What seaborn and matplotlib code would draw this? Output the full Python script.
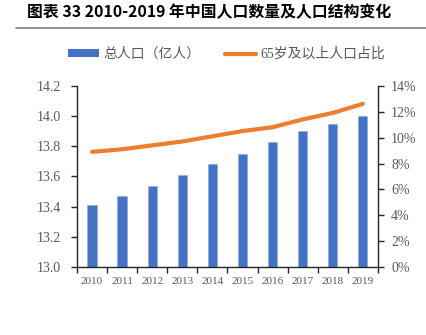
import numpy as np
import pandas as pd
import matplotlib
matplotlib.use("Agg")
import matplotlib.pyplot as plt
from matplotlib.patches import Patch
from matplotlib.lines import Line2D
from matplotlib.ticker import FuncFormatter, FixedLocator
import seaborn as sns

years = ["2010", "2011", "2012", "2013", "2014", "2015", "2016", "2017", "2018", "2019"]
population = [13.41, 13.47, 13.54, 13.61, 13.68, 13.75, 13.83, 13.90, 13.95, 14.00]
aged_share = [8.9, 9.1, 9.4, 9.7, 10.1, 10.5, 10.8, 11.4, 11.9, 12.6]
left_ticks = [13.0, 13.2, 13.4, 13.6, 13.8, 14.0, 14.2]
right_ticks = [0, 2, 4, 6, 8, 10, 12, 14]
title = "图表 33 2010-2019 年中国人口数量及人口结构变化"
bar_label = "总人口（亿人）"
line_label = "65岁及以上人口占比"

sns.set_style("white")
plt.rcParams["font.family"] = ["Liberation Serif", "Noto Sans CJK SC", "DejaVu Sans"]

BLUE = "#4472C4"
ORANGE = "#ED7D31"
GRAY = "#595959"
SERIF = ["Liberation Serif", "DejaVu Serif"]

fig = plt.figure(figsize=(4.26, 3.35), dpi=100)
ax = fig.add_axes([0.1808, 0.2021, 0.7062, 0.5421])

df = pd.DataFrame({"year": years, "pop": population, "share": aged_share})
sns.barplot(data=df, x="year", y="pop", color=BLUE, width=0.31, ax=ax,
            saturation=1, edgecolor="#8FAADC", linewidth=0.4)
ax.set_ylim(13.0, 14.2)
ax.set_xlim(-0.5, len(years) - 0.5)
ax.set_yticks(left_ticks)
ax.yaxis.set_major_formatter(FuncFormatter(lambda v, p: f"{v:.1f}"))
ax.set_xlabel("")
ax.set_ylabel("")

ax2 = ax.twinx()
sns.lineplot(x=np.arange(len(years)), y=df["share"], color=ORANGE, linewidth=3,
             ax=ax2, solid_capstyle="round")
ax2.set_ylim(0, 14)
ax2.set_yticks(right_ticks)
ax2.yaxis.set_major_formatter(FuncFormatter(lambda v, p: f"{v:.0f}%"))
ax2.set_ylabel("")
ax.set_xlim(-0.5, len(years) - 0.5)

for a in (ax, ax2):
    a.spines["top"].set_visible(False)
    for s in ("left", "right", "bottom"):
        a.spines[s].set_color("#262626")
        a.spines[s].set_linewidth(1.0)
ax.spines["right"].set_visible(False)
ax2.spines["left"].set_visible(False)
ax2.spines["bottom"].set_visible(False)

ax.tick_params(axis="y", direction="out", length=4, width=1, color="#262626",
               labelcolor=GRAY, labelsize=10, pad=7.5, left=True)
ax2.tick_params(axis="y", direction="out", length=4, width=1, color="#262626",
                labelcolor=GRAY, labelsize=10, pad=5.5, right=True)
ax.tick_params(axis="x", which="major", length=0, labelcolor=GRAY, labelsize=8, pad=7)
ax.xaxis.set_minor_locator(FixedLocator(np.arange(-0.5, len(years), 1.0)))
ax.tick_params(axis="x", which="minor", direction="out", length=4, width=1,
               color="#262626", bottom=True)

fig.canvas.draw()
for lab in ax.get_xticklabels() + ax.get_yticklabels() + ax2.get_yticklabels():
    lab.set_fontfamily(SERIF)

handles = [Patch(facecolor=BLUE, edgecolor="none"),
           Line2D([0], [0], color=ORANGE, linewidth=3)]
fig.legend(handles, [bar_label, line_label], loc="center",
           bbox_to_anchor=(0.532, 0.838), ncol=2, frameon=False,
           fontsize=10, labelcolor=GRAY, handlelength=2.2, handleheight=0.45,
           handletextpad=0.3, columnspacing=1.8)

fig.text(0.063, 0.963, title, fontsize=11.4, fontweight="bold", color="black",
         ha="left", va="center", family=["Noto Sans CJK SC", "DejaVu Sans"])
fig.add_artist(Line2D([16 / 426, 1.0], [1 - 27.5 / 335, 1 - 27.5 / 335],
                      color="#7f7f7f", linewidth=1.2))

fig.savefig("out.png", dpi=100)
